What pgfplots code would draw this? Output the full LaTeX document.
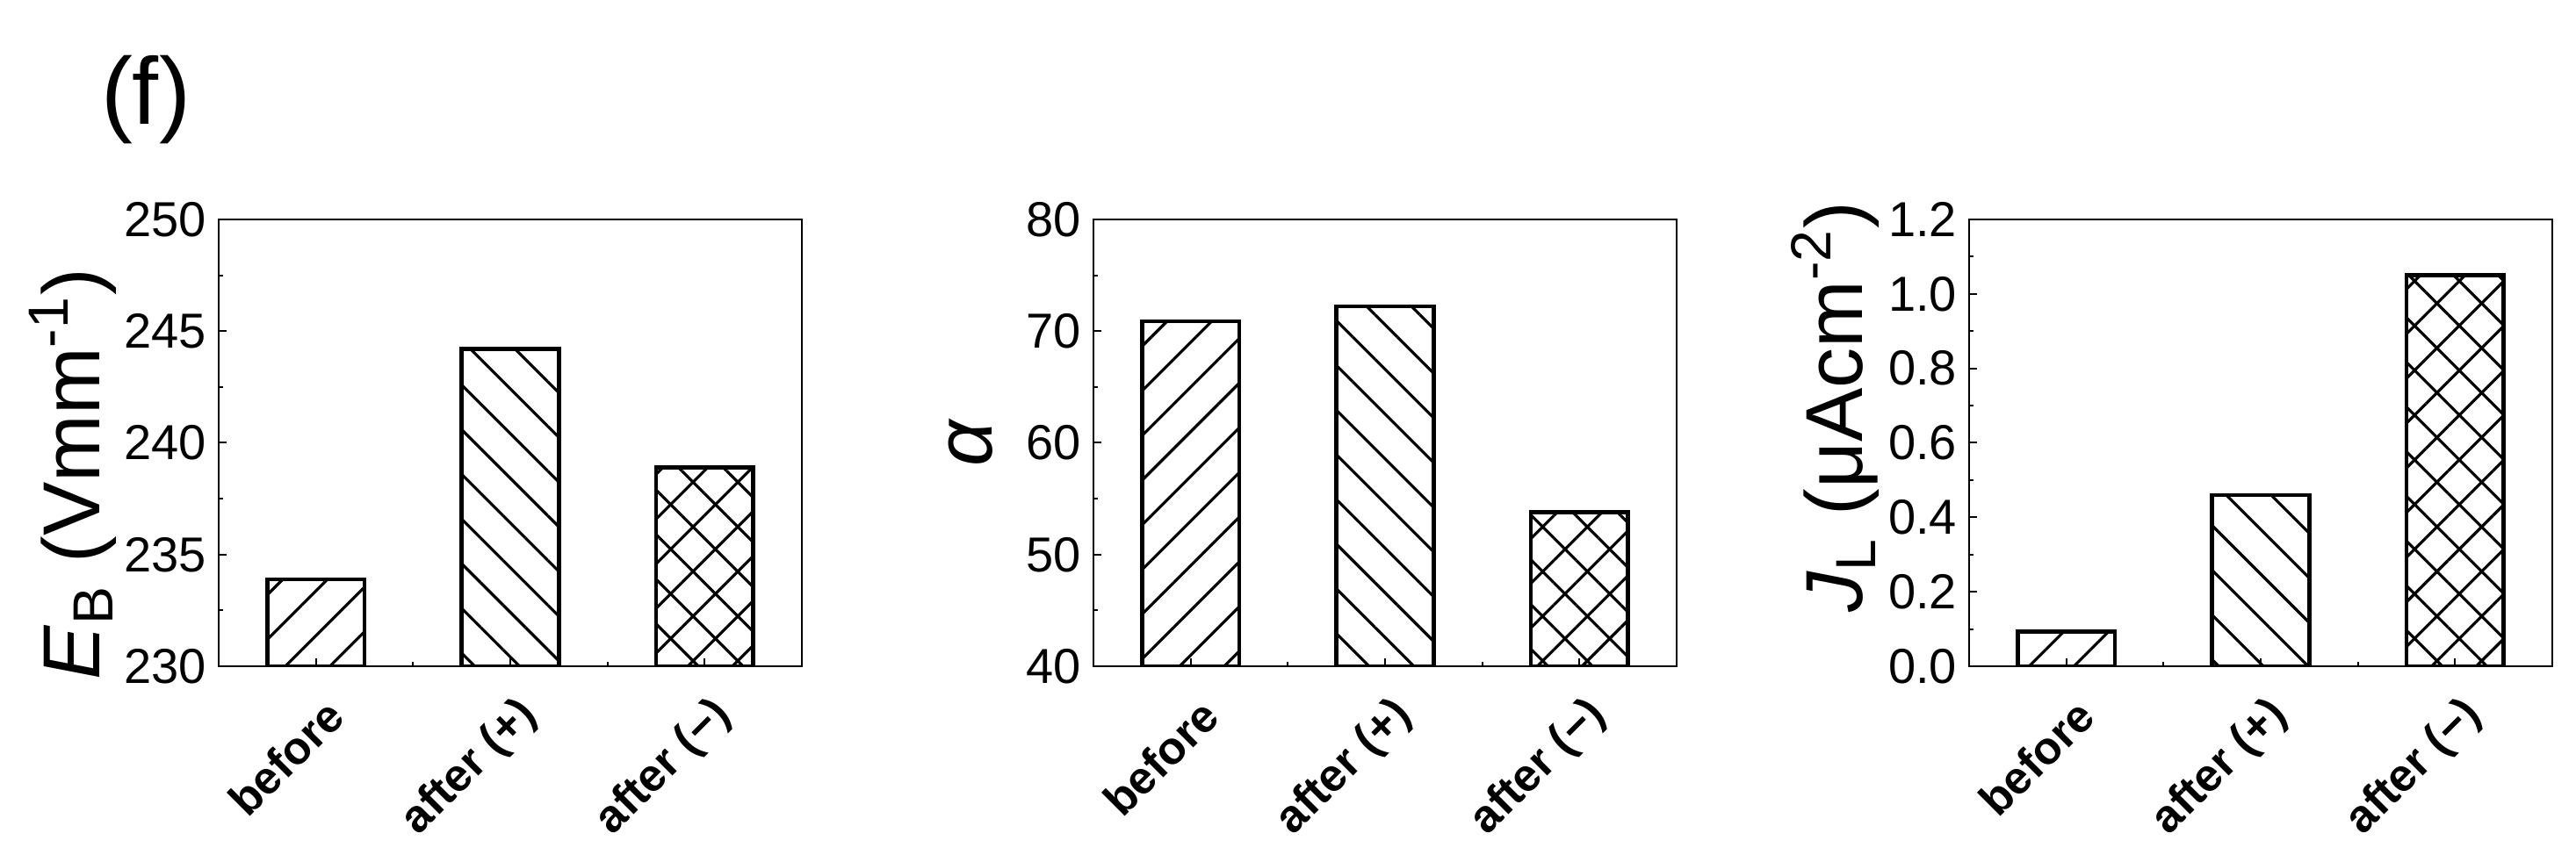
\documentclass[border=0pt]{standalone}
\usepackage{fontspec}
\setmainfont{Liberation Sans}
\usepackage{pgfplots}
\pgfplotsset{compat=1.18}
\usetikzlibrary{patterns.meta}

% 1 px of the reference = 0.25pt
\pgfplotsset{
  panel/.style={
    scale only axis, width=166pt, height=127.25pt,
    anchor=south west,
    xmin=-0.5, xmax=2.5,
    xtick={0,1,2}, minor xtick={0.5,1.5},
    xticklabels={before, after (+), after (−)},
    tick pos=left, tick align=inside,
    major tick length=2.25pt, minor tick length=1.25pt,
    axis line style={line width=0.5pt},
    every tick/.append style={black, line width=0.5pt},
    /pgf/number format/assume math mode=true,
    tick label style={font=\fontsize{14}{16}\selectfont},
    xticklabel style={xshift=8pt, yshift=-9.5pt, rotate=45, anchor=east, font=\fontsize{13}{16}\selectfont\bfseries},
    ylabel style={font=\fontsize{23}{26}\selectfont, anchor=center},
  },
  bar/.style={ybar, bar width=0.5, bar shift=0pt, draw=black, line width=1.1pt, pattern color=black},
  fwd/.style={bar, pattern={Lines[angle=45, distance=9pt, line width=0.8pt]}},
  bwd/.style={bar, pattern={Lines[angle=-45, distance=9pt, line width=0.8pt]}},
  xx/.style={bar, pattern={Hatch[angle=45, distance=9pt, line width=0.8pt]}},
}

\begin{document}
\begin{tikzpicture}
\path (0,0) rectangle (733.25pt,245.5pt);
\node[font=\fontsize{27}{30}\selectfont] at (41.5pt,217pt) {(f)};

\begin{axis}[panel, at={(62.25pt,55.75pt)},
  ymin=230, ymax=250,
  ytick={230,235,240,245,250}, minor ytick={232.5,237.5,242.5,247.5},
  ylabel={\textit{E}\textsubscript{B} (Vmm\textsuperscript{-1})},
  ylabel style={at={(axis description cs:-0.25,0.43)}}]
\addplot[fwd] coordinates {(0,233.9)};
\addplot[bwd] coordinates {(1,244.2)};
\addplot[xx] coordinates {(2,238.9)};
\end{axis}

\begin{axis}[panel, at={(311.25pt,55.75pt)},
  ymin=40, ymax=80,
  ytick={40,50,60,70,80}, minor ytick={45,55,65,75},
  ylabel={\textit{α}},
  ylabel style={at={(axis description cs:-0.21,0.5)}}]
\addplot[fwd] coordinates {(0,70.9)};
\addplot[bwd] coordinates {(1,72.2)};
\addplot[xx] coordinates {(2,53.8)};
\end{axis}

\begin{axis}[panel, at={(560.5pt,55.75pt)},
  ymin=0, ymax=1.2,
  ytick={0,0.2,0.4,0.6,0.8,1.0,1.2}, minor ytick={0.1,0.3,0.5,0.7,0.9,1.1},
  yticklabel style={/pgf/number format/fixed, /pgf/number format/fixed zerofill, /pgf/number format/precision=1},
  ylabel={\textit{J}\textsubscript{L} (μAcm\textsuperscript{-2})},
  ylabel style={at={(axis description cs:-0.23,0.58)}}]
\addplot[fwd] coordinates {(0,0.093)};
\addplot[bwd] coordinates {(1,0.46)};
\addplot[xx] coordinates {(2,1.05)};
\end{axis}
\end{tikzpicture}
\end{document}
